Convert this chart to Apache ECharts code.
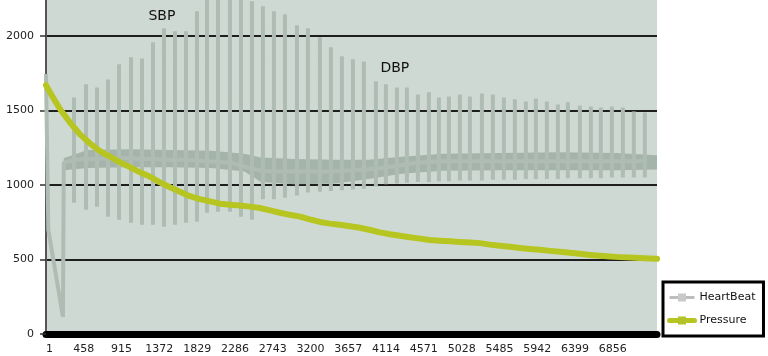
<!DOCTYPE html>
<html><head><meta charset="utf-8">
<script src="https://cdn.jsdelivr.net/npm/echarts@6/dist/echarts.min.js"></script>
<style>html,body{margin:0;padding:0;background:#fff}#c{width:768px;height:356px}</style>
</head><body><div id="c"></div>
<script>
// ---- data ----
const xTickLabels = ['1','458','915','1372','1829','2286','2743','3200','3657','4114','4571','5028','5485','5942','6399','6856'];
const yTickLabels = ['0','500','1000','1500','2000'];

// heartbeat: initial transient
const startX = [0, 24, 28, 205, 215];
const startY = [1745, 1755, 700, 115, 1150];

// heartbeat: pulses (sample index, band base, peak high, peak low)
const beatX = [339,484,617,750,883,1028,1161,1294,1427,1560,1693,1826,1947,2080,2225,2358,2491,2624,2757,2890,3035,3168,3313,3446,3579,3712,3845,3990,4111,4244,4365,4498,4631,4752,4873,5006,5127,5272,5405,5538,5671,5804,5925,6058,6191,6312,6457,6590,6711,6844,6977,7110,7243];
const beatHigh = [1588,1676,1655,1709,1810,1857,1850,1958,2052,2032,2032,2167,2270,2270,2270,2260,2234,2200,2167,2147,2073,2052,1992,1925,1864,1844,1830,1696,1676,1655,1655,1608,1622,1588,1595,1608,1595,1615,1608,1588,1575,1561,1581,1561,1541,1555,1534,1527,1521,1527,1521,1494,1487];
const beatLow = [881,834,854,787,767,747,733,733,720,733,747,754,814,820,820,787,767,905,905,915,930,950,955,960,965,970,975,990,1005,1010,1015,1020,1020,1025,1025,1030,1030,1030,1035,1035,1035,1040,1040,1040,1040,1045,1045,1045,1045,1050,1050,1050,1050];
const beatBase = [1170,1175,1175,1180,1180,1180,1175,1175,1170,1170,1170,1165,1160,1155,1150,1130,1110,1095,1090,1090,1090,1090,1090,1090,1095,1100,1105,1110,1120,1130,1140,1150,1155,1160,1160,1160,1160,1160,1160,1160,1160,1160,1160,1160,1160,1160,1160,1160,1160,1160,1160,1160,1160];

// heartbeat: dense band between pulses
const bandX  = [215, 500, 1000, 1500, 2000, 2400, 2600, 3000, 3500, 3900, 4300, 4800, 5500, 6200, 6900, 7390];
const bandLo = [1100,1115,1120,1120,1115,1090,1020,1005,1010,1040,1075,1095,1100,1100,1100,1105];
const bandHi = [1180,1235,1240,1235,1230,1210,1185,1175,1170,1170,1190,1210,1215,1220,1215,1200];

// pressure
const pressX = [0,60,169,290,411,530,653,775,895,1015,1137,1260,1378,1500,1620,1740,1862,1985,2104,2225,2346,2470,2588,2710,2829,2950,3071,3190,3313,3435,3555,3675,3797,3920,4039,4160,4281,4400,4522,4640,4764,4885,5006,5130,5248,5370,5490,5610,5732,5850,5973,6095,6215,6335,6457,6580,6699,6820,6941,7060,7183,7300,7390];
const pressY = [1670,1610,1510,1420,1340,1280,1228,1190,1152,1120,1085,1055,1018,985,955,925,905,890,875,868,862,855,846,830,814,800,788,770,752,741,733,723,713,698,682,670,660,650,640,631,626,622,618,614,610,600,592,585,578,571,565,558,552,545,538,531,525,520,516,513,510,507,505];

// annotations
const notes = [{text:'SBP', x:1402, y:2133}, {text:'DBP', x:4219, y:1783}];

// ---- build series data ----
const hbData = [];
for (let i = 0; i < startX.length; i++) hbData.push([startX[i], startY[i]]);
for (let i = 0; i < beatX.length; i++) {
  hbData.push([beatX[i], beatBase[i]]);
  hbData.push([beatX[i], beatHigh[i]]);
  hbData.push([beatX[i], beatLow[i]]);
  hbData.push([beatX[i], beatBase[i]]);
}
const pressData = pressX.map((x, i) => [x, pressY[i]]);

const FONT = 'DejaVu Sans';
const chart = echarts.init(document.getElementById('c'), null, {renderer: 'canvas'});
chart.setOption({
  animation: false,
  backgroundColor: '#ffffff',
  textStyle: {fontFamily: FONT},
  grid: {left: 46, right: 111, top: 0, bottom: 22, show: true, backgroundColor: '#cfd9d3', borderWidth: 0},
  xAxis: {
    type: 'value', min: 0, max: 7390, interval: 457,
    axisLine: {show: true, lineStyle: {color: '#000', width: 7}},
    axisTick: {show: false},
    splitLine: {show: false},
    axisLabel: {
      fontFamily: FONT, fontSize: 11, color: '#222', margin: 10,
      showMaxLabel: false, alignMinLabel: 'left',
      formatter: v => { const i = Math.round(v / 457); return (Math.abs(v - i * 457) < 1e-6 && i < xTickLabels.length) ? xTickLabels[i] : ''; }
    }
  },
  yAxis: {
    type: 'value', min: 0, max: 2242, interval: 500,
    axisLine: {show: true, lineStyle: {color: '#555', width: 2}},
    axisTick: {show: true, length: 6, lineStyle: {color: '#333', width: 1.5}},
    splitLine: {show: true, showMaxLine: false, showMinLine: false, lineStyle: {color: '#1e1e1e', width: 2}},
    axisLabel: {
      fontFamily: FONT, fontSize: 11, color: '#222', margin: 12, showMaxLabel: false,
      formatter: v => { const i = Math.round(v / 500); return (Math.abs(v - i * 500) < 1e-6 && i < yTickLabels.length) ? yTickLabels[i] : ''; }
    }
  },
  legend: {
    orient: 'vertical', left: 663, top: 282,
    backgroundColor: '#fff', borderColor: '#000', borderWidth: 3,
    padding: [10, 8, 10, 4], itemGap: 12, itemWidth: 25, itemHeight: 10,
    textStyle: {fontFamily: FONT, fontSize: 11, color: '#111'},
    data: [
      {name: 'HeartBeat', itemStyle: {color: '#c9c9c9'}, lineStyle: {color: '#bdbdbd', width: 3}},
      {name: 'Pressure', itemStyle: {color: '#b3c12a'}, lineStyle: {color: '#b7c520', width: 5}}
    ]
  },
  series: [
    {type: 'custom', name: 'band', silent: true, z: 1, data: [[0]],
     renderItem: (params, api) => {
       const pts = [];
       for (let i = 0; i < bandX.length; i++) pts.push(api.coord([bandX[i], bandHi[i]]));
       for (let i = bandX.length - 1; i >= 0; i--) pts.push(api.coord([bandX[i], bandLo[i]]));
       return {type: 'polygon', shape: {points: pts}, style: {fill: '#a5b4ab'}};
     }},
    {type: 'line', name: 'HeartBeat', data: hbData, showSymbol: false, symbol: 'rect', symbolSize: 9,
     clip: true, itemStyle: {color: '#c9c9c9'}, lineStyle: {color: '#afbcb4', width: 4}, z: 2,
     markPoint: {symbol: 'circle', symbolSize: 0, silent: true,
       label: {show: true, position: 'inside', fontFamily: FONT, fontSize: 14, color: '#111', formatter: p => p.name},
       data: notes.map(n => ({name: n.text, coord: [n.x, n.y]}))}},
    {type: 'line', name: 'Pressure', data: pressData, showSymbol: false, symbol: 'rect', symbolSize: 9,
     clip: true, itemStyle: {color: '#b3c12a'}, lineStyle: {color: '#b7c520', width: 6, cap: 'round', join: 'round'}, z: 3}
  ]
});
</script></body></html>
